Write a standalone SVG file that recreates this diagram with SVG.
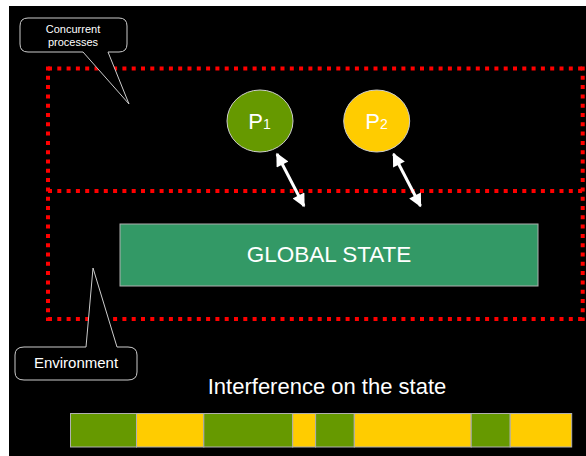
<svg xmlns="http://www.w3.org/2000/svg" width="586" height="456" viewBox="0 0 586 456">
  <style>
    .txt { font-family: "Liberation Sans", Arial, sans-serif; fill: #ffffff; }
    .dots { stroke: #ff0000; stroke-width: 4; stroke-dasharray: 4 5.3; fill: none; }
    .callout { fill: #000000; stroke: #cccccc; stroke-width: 1; }
    .green { fill: #669900; stroke: #b0b0b0; stroke-width: 1; }
    .yellow { fill: #ffcc00; stroke: #b0b0b0; stroke-width: 1; }
    .link { stroke: #ffffff; stroke-width: 3; fill: none; }
  </style>
  <defs>
    <marker id="head" viewBox="0 0 10 10" refX="9" refY="5" markerWidth="5" markerHeight="4.4" orient="auto-start-reverse" markerUnits="strokeWidth">
      <path d="M0,0 L10,5 L0,10 Z" fill="#ffffff"/>
    </marker>
  </defs>

  <!-- page background -->
  <rect x="0" y="0" width="586" height="456" fill="#ffffff"/>
  <rect x="9" y="6" width="577" height="450" fill="#000000"/>

  <!-- dotted region boundaries -->
  <g id="regions">
    <line class="dots" x1="48" y1="68.5" x2="584" y2="68.5"/>
    <line class="dots" x1="48" y1="191" x2="584" y2="191"/>
    <line class="dots" x1="48" y1="319" x2="584" y2="319"/>
    <line class="dots" x1="48" y1="66.5" x2="48" y2="321"/>
    <line class="dots" x1="582.7" y1="66.5" x2="582.7" y2="321"/>
  </g>

  <!-- callouts -->
  <g id="callout-processes">
    <path class="callout" d="M28,18 L119,18 Q127,18 127,26 L127,44 Q127,52 119,52 L108,52 L129,104 L83,52 L28,52 Q20,52 20,44 L20,26 Q20,18 28,18 Z"/>
    <text class="txt" x="73" y="33" font-size="11" text-anchor="middle">Concurrent</text>
    <text class="txt" x="73" y="46" font-size="11" text-anchor="middle">processes</text>
  </g>
  <g id="callout-environment">
    <path class="callout" d="M24,347 L86,347 L93,268 L117,347 L128,347 Q137,347 137,355 L137,372 Q137,380 128,380 L24,380 Q15,380 15,372 L15,355 Q15,347 24,347 Z"/>
    <text class="txt" x="76" y="367.5" font-size="15" text-anchor="middle">Environment</text>
  </g>

  <!-- shared state -->
  <g id="global-state">
    <rect x="120" y="224" width="418" height="62" fill="#339966" stroke="#b0b0b0" stroke-width="1"/>
    <text class="txt" x="329" y="262" font-size="22.5" text-anchor="middle">GLOBAL STATE</text>
  </g>

  <!-- processes -->
  <g id="p1">
    <ellipse cx="260" cy="121" rx="33" ry="31" fill="#669900" stroke="#cccccc" stroke-width="1"/>
    <text class="txt" x="259.5" y="129" text-anchor="middle"><tspan font-size="22">P</tspan><tspan font-size="14">1</tspan></text>
  </g>
  <g id="p2">
    <ellipse cx="376.7" cy="121" rx="33" ry="31" fill="#ffcc00" stroke="#cccccc" stroke-width="1"/>
    <text class="txt" x="376.5" y="129" text-anchor="middle"><tspan font-size="22">P</tspan><tspan font-size="14">2</tspan></text>
  </g>

  <!-- read/write connectors -->
  <g id="connectors">
    <line class="link" x1="277" y1="154" x2="304" y2="206" marker-start="url(#head)" marker-end="url(#head)"/>
    <line class="link" x1="393.5" y1="154" x2="420.5" y2="206" marker-start="url(#head)" marker-end="url(#head)"/>
  </g>

  <!-- interleaving timeline -->
  <g id="timeline">
    <text class="txt" x="327" y="394" font-size="22" text-anchor="middle">Interference on the state</text>
    <rect class="green" x="70.5" y="413.5" width="66" height="33.5"/>
    <rect class="yellow" x="136.5" y="413.5" width="67.3" height="33.5"/>
    <rect class="green" x="203.8" y="413.5" width="88.9" height="33.5"/>
    <rect class="yellow" x="292.7" y="413.5" width="22.9" height="33.5"/>
    <rect class="green" x="315.6" y="413.5" width="38.7" height="33.5"/>
    <rect class="yellow" x="354.3" y="413.5" width="116.9" height="33.5"/>
    <rect class="green" x="471.2" y="413.5" width="39" height="33.5"/>
    <rect class="yellow" x="510.2" y="413.5" width="61.5" height="33.5"/>
  </g>
</svg>
